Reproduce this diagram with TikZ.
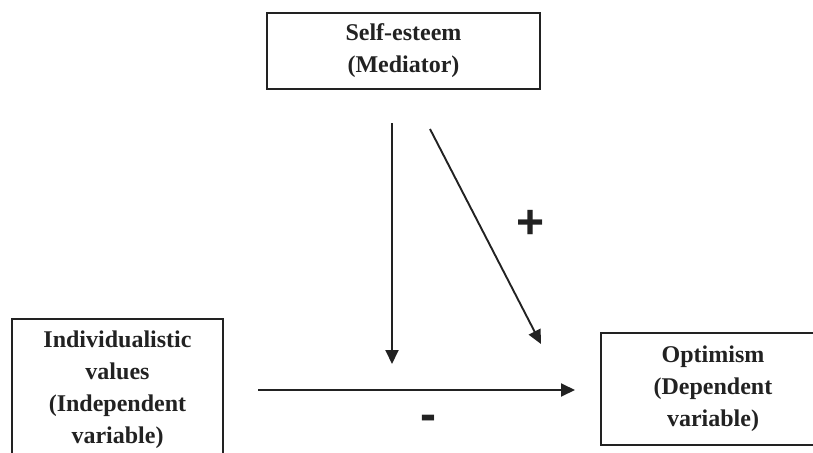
\documentclass[tikz,border=0pt]{standalone}
\usepackage{fontspec}
\setmainfont{Liberation Serif}
\newfontfamily\signfont{Liberation Sans}
\usetikzlibrary{arrows.meta,positioning}
\definecolor{inkK}{HTML}{222222}

\begin{document}
\begin{tikzpicture}[x=1pt,y=-1pt,
  varbox/.style={draw=inkK, line width=2pt, align=center, inner sep=0pt,
    font=\bfseries\fontsize{24}{32}\selectfont, text=inkK},
  link/.style={draw=inkK, line width=1.9pt, -{Triangle[length=14pt,width=13pt]}},
  sign/.style={font=\signfont\bfseries\fontsize{48}{48}\selectfont, text=inkK}]
  \useasboundingbox (0,0) rectangle (813,452);
  \clip (0,0) rectangle (813,452);

  % boxes
  \node[varbox, minimum width=273pt, minimum height=76pt] (med) at (403.5,51)
    {Self-esteem\\(Mediator)};
  \node[varbox, minimum width=211pt, minimum height=142pt] (ind) at (117.5,390)
    {Individualistic\\values\\(Independent\\variable)};
  \node[varbox, minimum width=224pt, minimum height=112pt] (opt) at (713,389)
    {Optimism\\(Dependent\\variable)};

  % free ends of the arrows
  \coordinate (vTop) at (392,123);
  \coordinate (vEnd) at (392,364);
  \coordinate (dTop) at (430,129);
  \coordinate (dEnd) at (541,344);
  \coordinate (hStart) at (258,390);
  \coordinate (hEnd) at (575,390);

  \draw[link] (vTop) -- (vEnd);
  \draw[link] (dTop) -- (dEnd);
  \draw[link] (hStart) -- (hEnd);

  \node[sign] (plus) at (531,224) {+};
  \node[sign] (minus) at (428,423) {-};
\end{tikzpicture}
\end{document}
